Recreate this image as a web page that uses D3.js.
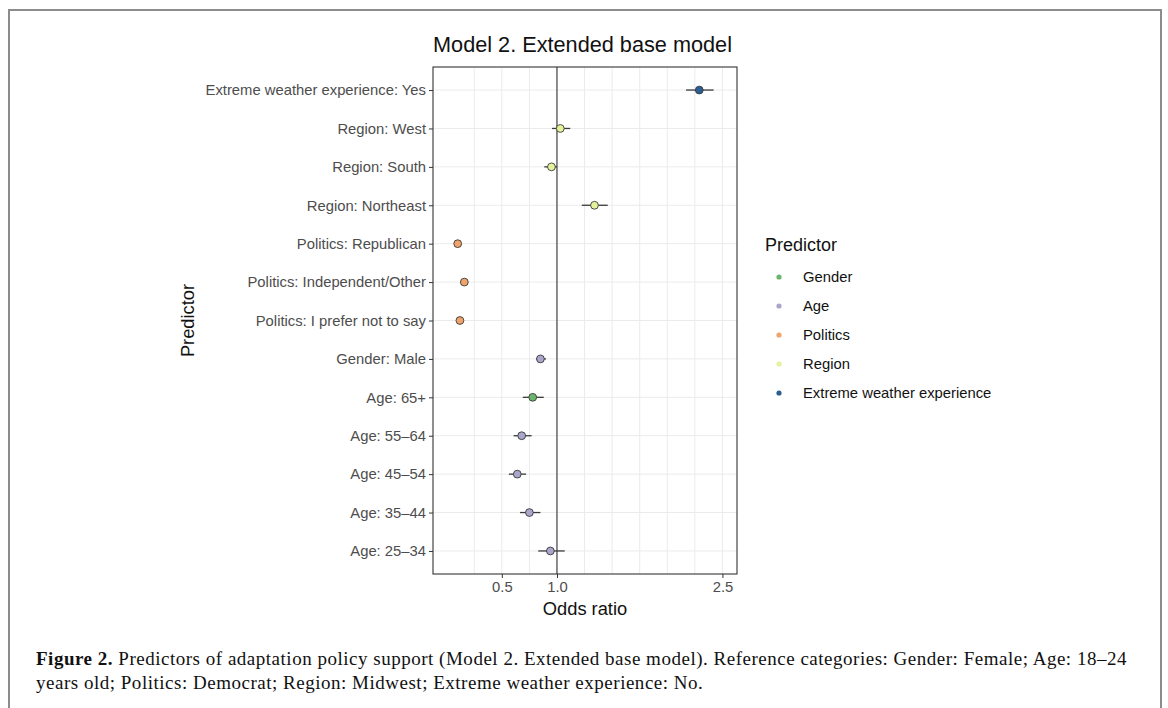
<!DOCTYPE html>
<html>
<head>
<meta charset="utf-8">
<script src="https://cdn.jsdelivr.net/npm/d3@7"></script>
<style>
  html, body { margin: 0; padding: 0; background: #fff; }
  svg { display: block; }
</style>
</head>
<body>
<svg id="chart" width="1168" height="708"></svg>
<script>
// ---------------- DATA ----------------
const predictors = [
  "Extreme weather experience: Yes",
  "Region: West",
  "Region: South",
  "Region: Northeast",
  "Politics: Republican",
  "Politics: Independent/Other",
  "Politics: I prefer not to say",
  "Gender: Male",
  "Age: 65+",
  "Age: 55\u201364",
  "Age: 45\u201354",
  "Age: 35\u201344",
  "Age: 25\u201334"
];
// colour group as drawn in the figure
const pointGroups = ["Extreme weather experience", "Region", "Region", "Region",
  "Politics", "Politics", "Politics", "Age", "Gender", "Age", "Age", "Age", "Age"];
const oddsRatio = [2.29, 1.03, 0.95, 1.34, 0.10, 0.16, 0.12, 0.85, 0.78, 0.68, 0.64, 0.75, 0.94];
const ciLower   = [2.17, 0.955, 0.885, 1.225, 0.09, 0.15, 0.11, 0.81, 0.69, 0.607, 0.564, 0.665, 0.83];
const ciUpper   = [2.42, 1.12, 1.00, 1.46, 0.105, 0.17, 0.13, 0.90, 0.88, 0.77, 0.72, 0.85, 1.07];

const legendGroups = ["Gender", "Age", "Politics", "Region", "Extreme weather experience"];
const groupColors  = ["#6cb56c", "#a9a6cb", "#f0a46c", "#e6f19c", "#2b5f93"];

const xTicks = [0.5, 1.0, 2.5];
const xGrid  = [0.25, 0.5, 0.75, 1.0, 1.25, 1.5, 1.75, 2.0, 2.25, 2.5];

const titleText = "Model 2. Extended base model";
const xTitle = "Odds ratio";
const yTitle = "Predictor";
const legendTitle = "Predictor";
const captionBold = "Figure 2.";
const captionLine1 = " Predictors of adaptation policy support (Model 2. Extended base model). Reference categories: Gender: Female; Age: 18\u201324";
const captionLine2 = "years old; Politics: Democrat; Region: Midwest; Extreme weather experience: No.";

// ---------------- LAYOUT ----------------
const svg = d3.select("#chart");
const panel = { left: 433, right: 737, top: 67, bottom: 574 };
const sans = "'Liberation Sans', Arial, Helvetica, sans-serif";
const serif = "'Liberation Serif', 'Times New Roman', serif";
const axisFont = "14.8px";

// outer frame
svg.append("path")
  .attr("d", "M9,708 L9,10 L1161,10 L1161,708")
  .attr("fill", "none").attr("stroke", "#8c8c8c").attr("stroke-width", 2);

const x = d3.scaleLinear().domain([-0.124, 2.632]).range([panel.left, panel.right]);
const y = d3.scalePoint().domain(predictors).range([panel.top, panel.bottom]).padding(0.6);
const color = d3.scaleOrdinal().domain(legendGroups).range(groupColors);

// grid
const g = svg.append("g");
g.selectAll("line.vgrid").data(xGrid).join("line")
  .attr("class", "vgrid")
  .attr("x1", d => x(d)).attr("x2", d => x(d))
  .attr("y1", panel.top).attr("y2", panel.bottom)
  .attr("stroke", "#ebebeb").attr("stroke-width", 1);
g.selectAll("line.hgrid").data(predictors).join("line")
  .attr("class", "hgrid")
  .attr("x1", panel.left).attr("x2", panel.right)
  .attr("y1", d => y(d)).attr("y2", d => y(d))
  .attr("stroke", "#ebebeb").attr("stroke-width", 1);

// reference line at 1
g.append("line")
  .attr("x1", x(1)).attr("x2", x(1))
  .attr("y1", panel.top).attr("y2", panel.bottom)
  .attr("stroke", "#222").attr("stroke-width", 1);

// axes
const xAxis = d3.axisBottom(x).tickValues(xTicks).tickFormat(d3.format(".1f")).tickSize(4).tickPadding(3);
const xa = svg.append("g").attr("transform", `translate(0,${panel.bottom})`).call(xAxis);
xa.select(".domain").remove();
xa.selectAll(".tick line").attr("stroke", "#333");
xa.selectAll(".tick text").attr("fill", "#4d4d4d").style("font-family", sans).style("font-size", axisFont);

const yAxis = d3.axisLeft(y).tickSize(4).tickPadding(3);
const ya = svg.append("g").attr("transform", `translate(${panel.left},0)`).call(yAxis);
ya.select(".domain").remove();
ya.selectAll(".tick line").attr("stroke", "#333");
ya.selectAll(".tick text").attr("fill", "#4d4d4d").style("font-family", sans).style("font-size", axisFont);

// error bars
const rows = predictors.map((p, i) => ({ p, or: oddsRatio[i], lo: ciLower[i], hi: ciUpper[i], grp: pointGroups[i] }));
svg.append("g").selectAll("line").data(rows).join("line")
  .attr("x1", d => x(d.lo)).attr("x2", d => x(d.hi))
  .attr("y1", d => y(d.p)).attr("y2", d => y(d.p))
  .attr("stroke", "#3a3a3a").attr("stroke-width", 1.3);

// points
svg.append("g").selectAll("circle").data(rows).join("circle")
  .attr("cx", d => x(d.or)).attr("cy", d => y(d.p)).attr("r", 3.9)
  .attr("fill", d => color(d.grp)).attr("stroke", "#3a3a3a").attr("stroke-width", 0.9);

// panel border
svg.append("rect")
  .attr("x", panel.left).attr("y", panel.top)
  .attr("width", panel.right - panel.left).attr("height", panel.bottom - panel.top)
  .attr("fill", "none").attr("stroke", "#333").attr("stroke-width", 1.1);

// titles
svg.append("text").attr("x", 582.5).attr("y", 52)
  .attr("text-anchor", "middle").style("font-family", sans).style("font-size", "21.7px")
  .attr("fill", "#111").text(titleText);
svg.append("text").attr("x", (panel.left + panel.right) / 2).attr("y", 615)
  .attr("text-anchor", "middle").style("font-family", sans).style("font-size", "18.3px")
  .attr("fill", "#111").text(xTitle);
svg.append("text").attr("transform", `translate(194,${(panel.top + panel.bottom) / 2}) rotate(-90)`)
  .attr("text-anchor", "middle").style("font-family", sans).style("font-size", "18.3px")
  .attr("fill", "#111").text(yTitle);

// legend
const lg = svg.append("g");
lg.append("text").attr("x", 765).attr("y", 251).style("font-family", sans).style("font-size", "18px")
  .attr("fill", "#111").text(legendTitle);
const ly = d3.scalePoint().domain(legendGroups).range([277, 393]);
lg.selectAll("circle").data(legendGroups).join("circle")
  .attr("cx", 779).attr("cy", d => ly(d)).attr("r", 2.6).attr("fill", d => color(d));
lg.selectAll("text.item").data(legendGroups).join("text").attr("class", "item")
  .attr("x", 803).attr("y", d => ly(d) + 5)
  .style("font-family", sans).style("font-size", "14.8px").attr("fill", "#111").text(d => d);

// caption
const cap = svg.append("g").style("font-family", serif).style("font-size", "19px").attr("fill", "#111");
const t1 = cap.append("text").attr("x", 36).attr("y", 665);
t1.append("tspan").style("font-weight", "bold").text(captionBold);
t1.append("tspan").text(captionLine1);
const t2 = cap.append("text").attr("x", 36).attr("y", 689).text(captionLine2);
// spread the caption so line 1 spans the same width as in the figure
const targetW = 1091;
const w1 = t1.node().getComputedTextLength();
const n1 = (captionBold + captionLine1).length;
const ls = (targetW - w1) / n1;
t1.style("letter-spacing", ls + "px");
t2.style("letter-spacing", ls + "px");
</script>
</body>
</html>
